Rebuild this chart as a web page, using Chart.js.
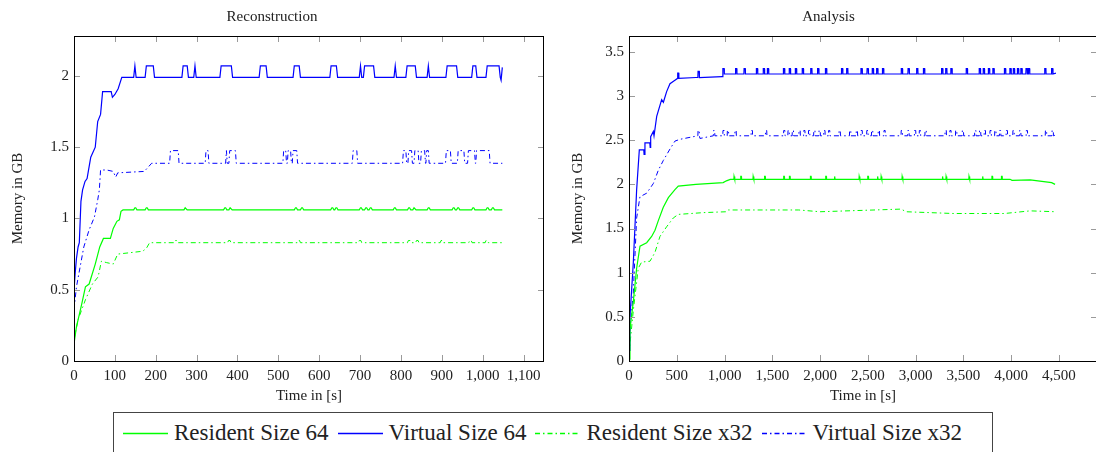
<!DOCTYPE html>
<html>
<head>
<meta charset="utf-8">
<script src="https://cdn.jsdelivr.net/npm/chart.js@4.4.1/dist/chart.umd.min.js"></script>
<style>
  html, body { margin: 0; padding: 0; background: #fff; overflow: hidden; }
  #wrap { position: relative; width: 1096px; height: 452px; overflow: hidden; }
  .plot { position: absolute; top: 0; }
  #legend {
    position: absolute; left: 113px; top: 412px; width: 878px; height: 40px;
    border: 1.3px solid #444; display: flex; align-items: center;
    font-family: "Liberation Serif", "DejaVu Serif", serif; font-size: 23px; color: #222;
    white-space: nowrap;
  }
  #legend svg { margin: 0 6px 0 9px; }
</style>
</head>
<body>
<div id="wrap">
  <canvas id="recon" class="plot" style="left:0px" width="560" height="405"></canvas>
  <canvas id="analysis" class="plot" style="left:560px" width="560" height="405"></canvas>
  <div id="legend"></div>
</div>
<script>
// ---- data (time in s, memory in GB) ----
const seriesNames = ["Resident Size 64", "Virtual Size 64", "Resident Size x32", "Virtual Size x32"];

// tick labels
const reconXTicks = [0, 100, 200, 300, 400, 500, 600, 700, 800, 900, 1000, 1100];
const reconYTicks = [0, 0.5, 1, 1.5, 2];
const anaXTicks = [0, 500, 1000, 1500, 2000, 2500, 3000, 3500, 4000, 4500];
const anaYTicks = [0, 0.5, 1, 1.5, 2, 2.5, 3, 3.5];

// Reconstruction
const reconRes64 = [[0,0.12],[6,0.24],[19,0.40],[28,0.52],[37,0.54],[52,0.68],[63,0.80],[72,0.86],[89,0.86],[96,0.93],[105,0.98],[111,0.99],[115,1.05],[120,1.06],[1048,1.06]];
const reconRes64Bumps = [[149,151],[177,179],[272,274],[369,371],[382,384],[542,544],[557,559],[631,633],[641,643],[701,703],[714,716],[725,727],[784,786],[819,821],[832,834],[867,869],[928,930],[939,941],[976,978],[1011,1013],[1024,1026]];
const reconVirt64 = [[0,0.5],[3,0.62],[6,0.72],[10,0.8],[13,0.83],[17,1.12],[21,1.2],[27,1.26],[32,1.28],[41,1.43],[52,1.5],[58,1.68],[65,1.73],[70,1.89],[91,1.89],[94,1.85],[100,1.87],[108,1.91],[117,1.99],[1045,1.97],[1048,2.06]];
const reconVirt64Pulses = [[149,149],[177,194],[267,277],[296,296],[360,385],[456,470],[539,551],[629,642],[701,701],[711,733],[786,786],[815,835],[867,867],[913,936],[976,983],[1011,1040]];
const reconResX32 = [[0,0.15],[10,0.29],[28,0.43],[45,0.54],[59,0.59],[67,0.70],[80,0.69],[96,0.68],[107,0.75],[168,0.77],[177,0.79],[185,0.83],[1048,0.83]];
const reconResX32Bumps = [[248,252],[378,382],[548,552],[698,702],[818,822],[838,842],[898,902],[968,972],[1008,1012]];
const reconVirtX32 = [[0,0.36],[6,0.52],[15,0.66],[24,0.8],[37,0.92],[50,1.01],[58,1.13],[62,1.2],[65,1.34],[80,1.34],[96,1.33],[102,1.29],[107,1.32],[172,1.33],[190,1.387],[1048,1.387]];
const reconVirtX32Pulses = [[236,255],[323,328],[373,373],[381,395],[513,518],[524,530],[536,545],[683,692],[806,812],[819,826],[834,842],[850,858],[863,867],[911,921],[940,954],[965,980],[985,1016]];

// Analysis
const anaRes64 = [[0,0.02],[10,0.36],[45,0.67],[80,1.05],[115,1.3],[185,1.34],[237,1.41],[272,1.48],[307,1.59],[359,1.74],[412,1.85],[481,1.94],[516,1.98],[700,2.0],[986,2.02],[1020,2.04],[1060,2.057],[3990,2.057],[4010,2.045],[4200,2.05],[4282,2.04],[4425,2.02],[4461,2.0]];
const anaRes64Spikes = [[1100,1106],[1170,1176],[1300,1306],[1420,1426],[1620,1626],[1680,1686],[1900,1906],[2060,2066],[2150,2156],[2410,2416],[2500,2506],[2600,2606],[2640,2646],[2860,2866],[3280,3286],[3320,3326],[3560,3566],[3700,3706],[3800,3806],[3900,3906]];
const anaVirt64 = [[0,0.12],[10,0.5],[45,1.11],[80,1.94],[108,2.39],[155,2.39],[158,2.34],[167,2.47],[218,2.47],[222,2.42],[227,2.54],[255,2.6],[262,2.55],[290,2.77],[342,2.96],[360,2.93],[394,3.05],[429,3.14],[481,3.18],[508,3.2],[510,3.26],[520,3.26],[522,3.2],[700,3.21],[721,3.21],[723,3.28],[735,3.28],[737,3.21],[975,3.22],[1020,3.25],[4200,3.25],[4470,3.26]];
const anaVirt64Spikes = [[984,996],[1116,1128],[1205,1217],[1334,1346],[1406,1418],[1449,1461],[1617,1629],[1678,1690],[1742,1754],[1814,1826],[1903,1915],[1975,1987],[2057,2069],[2225,2237],[2279,2291],[2429,2441],[2493,2505],[2547,2559],[2593,2605],[2654,2666],[2851,2863],[2922,2934],[3012,3024],[3083,3095],[3273,3285],[3316,3328],[3370,3382],[3531,3543],[3667,3679],[3709,3721],[3763,3775],[3810,3822],[3931,3943],[3988,4000],[4024,4036],[4067,4079],[4103,4115],[4157,4169],[4182,4194],[4353,4365],[4425,4437]];
const anaResX32 = [[0,0.08],[45,0.57],[97,1.05],[132,1.12],[220,1.13],[272,1.23],[324,1.41],[394,1.52],[464,1.62],[516,1.66],[777,1.68],[1020,1.69],[1040,1.71],[1778,1.71],[2000,1.69],[2851,1.72],[2900,1.69],[3400,1.67],[3931,1.67],[4200,1.70],[4470,1.69]];
const anaVirtX32 = [[0,0.2],[10,0.36],[45,0.77],[80,1.62],[115,1.86],[185,1.9],[255,2.01],[307,2.16],[359,2.27],[429,2.4],[481,2.49],[533,2.51],[743,2.52],[1000,2.55],[4470,2.56]];
const anaVirtX32Spikes = [[723,735],[885,897],[984,996],[1030,1042],[1110,1122],[1280,1292],[1430,1442],[1620,1632],[1665,1677],[1710,1722],[1780,1792],[1830,1842],[1880,1892],[1935,1947],[1990,2002],[2040,2052],[2090,2102],[2200,2212],[2310,2322],[2380,2392],[2430,2442],[2490,2502],[2540,2552],[2610,2622],[2670,2682],[2850,2862],[2920,2932],[2990,3002],[3040,3052],[3100,3112],[3310,3322],[3360,3372],[3420,3432],[3490,3502],[3620,3632],[3670,3682],[3720,3732],[3780,3792],[3830,3842],[3880,3892],[3950,3962],[4020,4032],[4090,4102],[4160,4172],[4360,4372],[4430,4442]];

const GREEN = "#00ff00", BLUE = "#0000ff";
const SERIF = "'Liberation Serif', 'DejaVu Serif', serif";
const DASHDOT = [5, 3, 1.5, 3];

// merge a base curve with rectangular pulses
function withPulses(points, pulses, base, top, edge) {
  const out = points.slice();
  pulses.forEach(([s, e]) => out.push([s - edge, base], [s, top], [e, top], [e + edge, base]));
  return out.sort((a, b) => a[0] - b[0]).map(([x, y]) => ({ x, y }));
}

function ds(label, data, color, dashed) {
  return {
    label, data, borderColor: color, backgroundColor: color,
    borderWidth: dashed ? 1 : 1.2, borderDash: dashed ? DASHDOT : [],
    pointRadius: 0, tension: 0, fill: false,
  };
}

// inward ticks on all four sides + black frame
const frameTicks = {
  id: "frameTicks",
  afterDatasetsDraw(chart) {
    const { ctx, chartArea: a, scales: { x, y } } = chart;
    ctx.save();
    ctx.strokeStyle = "#9a9a9a";
    ctx.lineWidth = 1;
    ctx.beginPath();
    x.ticks.forEach(t => {
      const px = Math.round(x.getPixelForValue(t.value)) + 0.5;
      ctx.moveTo(px, a.top); ctx.lineTo(px, a.top + 6);
      ctx.moveTo(px, a.bottom); ctx.lineTo(px, a.bottom - 6);
    });
    y.ticks.forEach(t => {
      const py = Math.round(y.getPixelForValue(t.value)) + 0.5;
      ctx.moveTo(a.left, py); ctx.lineTo(a.left + 6, py);
      ctx.moveTo(a.right, py); ctx.lineTo(a.right - 6, py);
    });
    ctx.stroke();
    ctx.strokeStyle = "#000";
    ctx.strokeRect(a.left + 0.5, a.top + 0.5, a.width - 1, a.height);
    ctx.restore();
  }
};

function makeChart(id, title, datasets, xmax, xTicks, ymax, yTicks, yWidth, padRight) {
  const tickFont = { family: SERIF, size: 15 };
  return new Chart(document.getElementById(id), {
    type: "line",
    data: { datasets },
    options: {
      responsive: false, animation: false, devicePixelRatio: 1,
      layout: { padding: { left: 0, right: padRight, top: 0, bottom: 0 } },
      plugins: {
        legend: { display: false }, tooltip: { enabled: false },
        title: { display: true, text: title, color: "#222", font: { family: SERIF, size: 15, weight: "normal" }, padding: { top: 8, bottom: 10 } },
      },
      scales: {
        x: {
          type: "linear", min: 0, max: xmax,
          grid: { display: false, drawTicks: false }, border: { display: false },
          afterBuildTicks: s => { s.ticks = xTicks.map(value => ({ value })); },
          ticks: { padding: 6, maxRotation: 0, autoSkip: false, color: "#222", font: tickFont,
                   callback: v => v.toLocaleString("en-US") },
          title: { display: true, text: "Time in [s]", color: "#222", font: { family: SERIF, size: 15 }, padding: { top: 0, bottom: 0 } },
          afterFit: s => { s.height = 44; },
        },
        y: {
          min: 0, max: ymax,
          grid: { display: false, drawTicks: false }, border: { display: false },
          afterBuildTicks: s => { s.ticks = yTicks.map(value => ({ value })); },
          ticks: { padding: 5, autoSkip: false, color: "#222", font: tickFont, callback: v => String(v) },
          title: { display: true, text: "Memory in GB", color: "#222", font: { family: SERIF, size: 15 }, padding: { top: 9, bottom: 0 } },
          afterFit: s => { s.width = yWidth; },
        },
      },
    },
    plugins: [frameTicks],
  });
}

makeChart("recon", "Reconstruction", [
  ds(seriesNames[0], withPulses(reconRes64, reconRes64Bumps, 1.06, 1.075, 3), GREEN, false),
  ds(seriesNames[1], withPulses(reconVirt64, reconVirt64Pulses, 1.99, 2.07, 3), BLUE, false),
  ds(seriesNames[2], withPulses(reconResX32, reconResX32Bumps, 0.83, 0.845, 2), GREEN, true),
  ds(seriesNames[3], withPulses(reconVirtX32, reconVirtX32Pulses, 1.387, 1.476, 2), BLUE, true),
], 1150, reconXTicks, 2.28, reconYTicks, 74, 16);

makeChart("analysis", "Analysis", [
  ds(seriesNames[0], withPulses(anaRes64, anaRes64Spikes, 2.057, 2.09, 2), GREEN, false),
  ds(seriesNames[1], withPulses(anaVirt64, anaVirt64Spikes, 3.25, 3.31, 2), BLUE, false),
  ds(seriesNames[2], anaResX32.map(([x, y]) => ({ x, y })), GREEN, true),
  ds(seriesNames[3], withPulses(anaVirtX32, anaVirtX32Spikes, 2.55, 2.61, 2), BLUE, true),
], 4900, anaXTicks, 3.68, anaYTicks, 69, 23);

// legend below both plots
const legendColors = [GREEN, BLUE, GREEN, BLUE];
const legendDash = [false, false, true, true];
const legend = document.getElementById("legend");
seriesNames.forEach((name, i) => {
  const dash = legendDash[i] ? ' stroke-dasharray="5 3 1.5 3"' : "";
  legend.insertAdjacentHTML("beforeend",
    `<svg width="45" height="10"><line x1="0" y1="5.5" x2="45" y2="5.5" stroke="${legendColors[i]}" stroke-width="1.3"${dash}/></svg><span>${name}</span>`);
});
</script>
</body>
</html>
